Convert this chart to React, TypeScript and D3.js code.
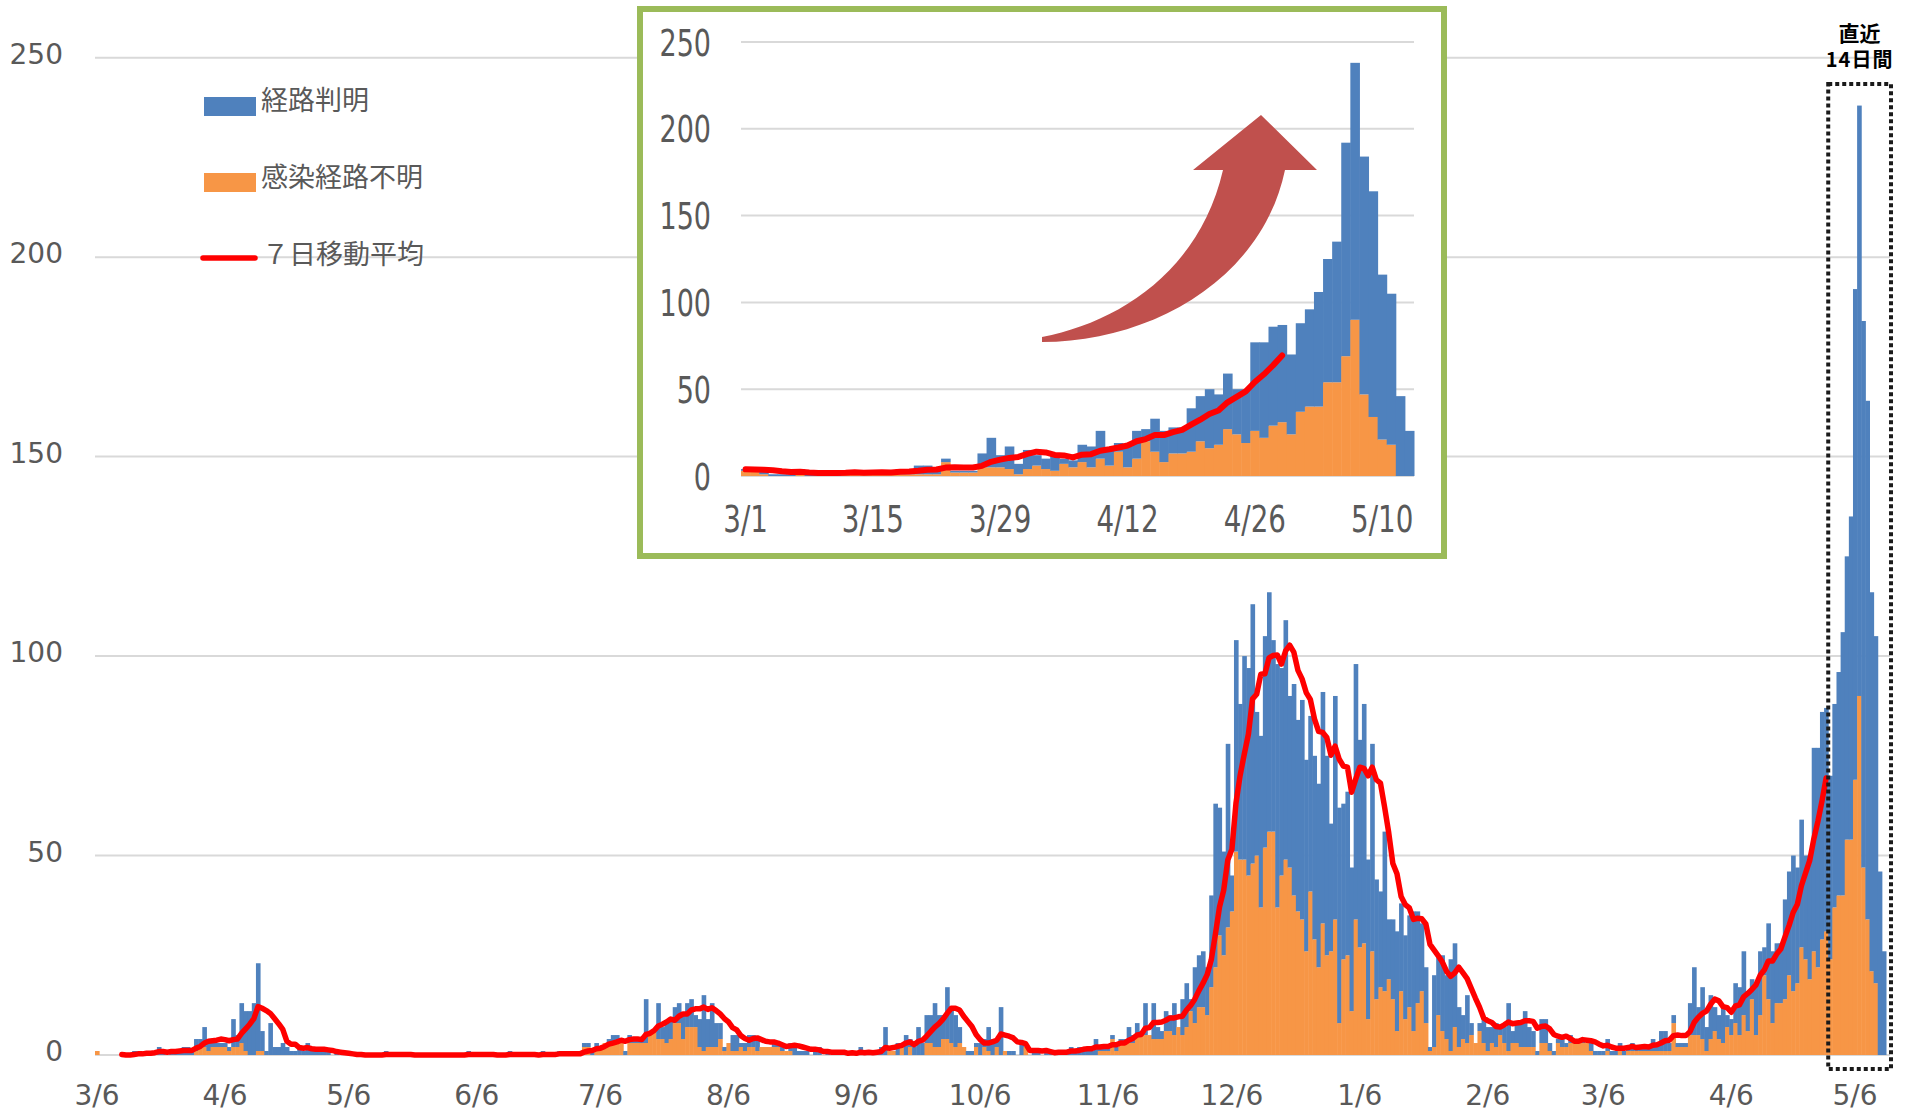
import * as d3 from 'd3';

// daily series, first day 2020-03-06, last day 2021-05-13
const START = '2020-03-06';
const MA_END = '2021-04-29';
const INSET_START = '2021-03-01';

const known = [
  0, 0, 0, 0, 0, 0, 0, 0, 0, 1,
  1, 0, 1, 0, 1, 2, 1, 0, 1, 1,
  1, 2, 2, 1, 3, 2, 5, 3, 1, 1,
  1, 1, 1, 7, 3, 10, 10, 11, 13, 22,
  5, 1, 8, 2, 2, 3, 2, 1, 1, 2,
  1, 3, 1, 1, 1, 1, 1, 0, 1, 0,
  0, 0, 0, 0, 0, 0, 0, 0, 0, 0,
  1, 0, 0, 0, 0, 0, 0, 0, 0, 0,
  0, 0, 0, 0, 0, 0, 0, 0, 0, 0,
  1, 0, 0, 0, 0, 0, 0, 0, 0, 0,
  1, 0, 0, 0, 0, 0, 0, 0, 1, 0,
  0, 0, 1, 0, 0, 1, 0, 0, 1, 1,
  1, 2, 0, 0, 1, 2, 2, 1, 1, 2,
  1, 1, 1, 11, 0, 0, 9, 3, 5, 5,
  4, 5, 6, 6, 7, 3, 7, 14, 7, 11,
  6, 4, 1, 0, 4, 4, 1, 2, 3, 3,
  3, 0, 0, 0, 1, 1, 1, 0, 2, 3,
  1, 1, 1, 0, 1, 2, 0, 1, 0, 1,
  0, 1, 0, 1, 0, 2, 0, 1, 0, 1,
  2, 7, 0, 0, 3, 0, 5, 2, 2, 7,
  3, 7, 7, 11, 8, 6, 13, 9, 8, 4,
  0, 1, 1, 1, 3, 2, 6, 4, 2, 12,
  0, 1, 1, 0, 3, 0, 0, 1, 1, 0,
  1, 1, 0, 1, 1, 1, 2, 1, 2, 2,
  2, 1, 4, 1, 1, 1, 1, 1, 1, 1,
  4, 2, 3, 1, 8, 0, 9, 3, 2, 5,
  4, 8, 0, 9, 11, 3, 14, 13, 14, 12,
  23, 41, 32, 26, 46, 9, 53, 39, 51, 52,
  65, 36, 43, 53, 60, 48, 61, 52, 60, 43,
  53, 48, 55, 48, 44, 46, 46, 58, 50, 32,
  56, 54, 39, 41, 36, 64, 52, 60, 40, 52,
  30, 24, 40, 15, 20, 25, 22, 21, 23, 30,
  23, 17, 14, 1, 18, 15, 19, 16, 23, 21,
  10, 6, 12, 3, 0, 2, 6, 6, 4, 6,
  2, 4, 12, 3, 5, 6, 9, 5, 4, 1,
  6, 6, 2, 1, 1, 2, 1, 2, 1, 0,
  1, 0, 2, 1, 1, 1, 3, 1, 1, 2,
  1, 1, 2, 1, 1, 1, 1, 3, 2, 5,
  5, 2, 2, 1, 1, 1, 8, 17, 7, 13,
  6, 11, 6, 6, 9, 3, 4, 10, 12, 16,
  10, 5, 13, 16, 7, 19, 18, 15, 15, 25,
  26, 34, 29, 32, 26, 31, 51, 55, 57, 56,
  46, 51, 56, 66, 71, 81, 123, 148, 137, 130,
  95, 87, 46, 26,
];

const unknown = [
  1, 0, 0, 0, 0, 0, 0, 0, 0, 0,
  0, 0, 0, 0, 0, 0, 0, 0, 0, 0,
  0, 0, 0, 0, 1, 2, 2, 1, 2, 2,
  2, 2, 1, 2, 2, 3, 1, 0, 0, 1,
  1, 0, 0, 0, 0, 0, 0, 0, 0, 0,
  0, 0, 0, 0, 0, 0, 0, 0, 0, 0,
  0, 0, 0, 0, 0, 0, 0, 0, 0, 0,
  0, 0, 0, 0, 0, 0, 0, 0, 0, 0,
  0, 0, 0, 0, 0, 0, 0, 0, 0, 0,
  0, 0, 0, 0, 0, 0, 0, 0, 0, 0,
  0, 0, 0, 0, 0, 0, 0, 0, 0, 0,
  0, 0, 0, 0, 0, 0, 0, 0, 2, 2,
  0, 1, 2, 3, 3, 3, 3, 3, 0, 3,
  3, 3, 3, 3, 6, 6, 4, 4, 3, 4,
  8, 8, 4, 7, 7, 7, 2, 1, 2, 2,
  2, 4, 1, 3, 1, 1, 2, 1, 2, 2,
  1, 2, 2, 2, 2, 2, 1, 1, 1, 0,
  0, 0, 0, 0, 0, 0, 0, 0, 0, 0,
  0, 0, 0, 0, 0, 0, 0, 0, 0, 0,
  0, 0, 1, 1, 0, 2, 0, 2, 0, 0,
  0, 3, 3, 2, 2, 4, 4, 3, 2, 3,
  2, 0, 0, 2, 0, 2, 1, 0, 2, 0,
  1, 0, 0, 0, 0, 2, 0, 0, 0, 0,
  0, 0, 0, 0, 0, 0, 0, 0, 0, 0,
  0, 0, 0, 1, 1, 1, 4, 1, 3, 3,
  3, 3, 5, 5, 5, 5, 4, 4, 4, 6,
  6, 5, 7, 5, 7, 11, 8, 12, 12, 10,
  17, 22, 30, 25, 32, 36, 51, 49, 49, 45,
  48, 50, 37, 52, 56, 56, 37, 45, 49, 47,
  40, 36, 34, 26, 41, 29, 22, 33, 25, 26,
  34, 8, 24, 25, 11, 34, 27, 28, 9, 26,
  14, 17, 16, 19, 14, 6, 16, 9, 12, 6,
  13, 16, 8, 1, 2, 10, 6, 4, 1, 7,
  2, 4, 3, 5, 3, 6, 3, 1, 3, 2,
  5, 3, 1, 3, 3, 2, 2, 2, 2, 0,
  3, 3, 1, 0, 3, 2, 2, 3, 3, 3,
  3, 3, 1, 0, 0, 0, 1, 0, 0, 1,
  0, 1, 1, 1, 1, 1, 1, 1, 1, 1,
  1, 1, 8, 2, 2, 2, 5, 5, 5, 4,
  1, 4, 6, 4, 3, 7, 5, 8, 5, 10,
  6, 14, 5, 10, 20, 14, 8, 13, 13, 14,
  20, 16, 18, 27, 24, 19, 26, 22, 29, 31,
  24, 37, 40, 40, 54, 54, 69, 90, 47, 34,
  21, 18, 0, 0,
];

const MAIN_TICKS = [
  '2020-03-06', '2020-04-06', '2020-05-06', '2020-06-06', '2020-07-06',
  '2020-08-06', '2020-09-06', '2020-10-06', '2020-11-06', '2020-12-06',
  '2021-01-06', '2021-02-06', '2021-03-06', '2021-04-06', '2021-05-06',
];
const INSET_TICKS = ['2021-03-01', '2021-03-15', '2021-03-29', '2021-04-12', '2021-04-26', '2021-05-10'];
const Y_TICKS = [0, 50, 100, 150, 200, 250];

const SERIES_NAMES = ['経路判明', '感染経路不明', '７日移動平均'];

const BLUE = '#4f81bd';
const ORANGE = '#f79646';
const RED = '#ff0000';
const GRID = '#d9d9d9';
const LABEL = '#595959';
const NUM_FONT = '"DejaVu Sans", Verdana, sans-serif';
const JP_FONT = '"Noto Sans CJK JP", "Noto Sans", sans-serif';

const parse = d3.timeParse('%Y-%m-%d');
const fmtKey = d3.timeFormat('%Y-%m-%d');
const fmtLabel = d3.timeFormat('%-m/%-d');

const start = parse(START) as Date;
const rows = known.map((k, i) => ({
  date: fmtKey(d3.timeDay.offset(start, i)),
  known: k,
  unknown: unknown[i],
  total: k + unknown[i],
}));
const dates = rows.map((r) => r.date);
const maEndIdx = dates.indexOf(MA_END);
const maRows = rows
  .map((r, i) => ({
    date: r.date,
    ma: i >= 6 ? d3.mean(rows.slice(i - 6, i + 1), (d) => d.total) as number : null,
  }))
  .filter((d, i) => d.ma !== null && i <= maEndIdx);

const insetIdx = dates.indexOf(INSET_START);
const insetRows = rows.slice(insetIdx);
const insetMa = maRows.filter((d) => d.date >= INSET_START);

function Bars({ data, x, y }) {
  const bw = x.bandwidth();
  return (
    <g>
      {data.map((d) => {
        const x0 = x(d.date);
        return (
          <g key={d.date}>
            {d.unknown > 0 && (
              <rect x={x0} width={bw + 0.5} y={y(d.unknown)} height={y(0) - y(d.unknown)} fill={ORANGE} />
            )}
            {d.known > 0 && (
              <rect x={x0} width={bw + 0.5} y={y(d.total)} height={y(d.unknown) - y(d.total)} fill={BLUE} />
            )}
          </g>
        );
      })}
    </g>
  );
}

export default function App() {
  const x = d3.scaleBand().domain(dates).range([95, 1886]).padding(0);
  const y = d3.scaleLinear().domain([0, 250]).range([1055, 57.7]);
  const bw = x.bandwidth();

  const line = d3.line()
    .x((d) => x(d.date) + bw / 2)
    .y((d) => y(d.ma));

  const xi = d3.scaleBand().domain(insetRows.map((d) => d.date)).range([741, 1414]).padding(0);
  const yi = d3.scaleLinear().domain([0, 250]).range([476, 42]);
  const bwi = xi.bandwidth();
  const lineI = d3.line()
    .x((d) => xi(d.date) + bwi / 2)
    .y((d) => yi(d.ma));

  const boxLeft = x(dates[maEndIdx + 1]);
  const boxRight = x(dates[dates.length - 1]) + bw + 5;

  return (
    <svg width={1914} height={1111} style={{ position: 'absolute', left: 0, top: 0, display: 'block', background: '#fff' }}>
      {/* main grid */}
      {Y_TICKS.map((t) => (
        <g key={t}>
          <line x1={95} x2={1890} y1={y(t)} y2={y(t)} stroke={GRID} strokeWidth={2} />
          <text x={63} y={y(t) + 6} textAnchor="end" fontFamily={NUM_FONT} fontSize={28} fill={LABEL}>{t}</text>
        </g>
      ))}
      {MAIN_TICKS.map((t, i) => (
        <text key={i} x={x(t) + bw / 2} y={1105} textAnchor="middle" fontFamily={NUM_FONT} fontSize={28} fill={LABEL}>
          {fmtLabel(parse(t) as Date)}
        </text>
      ))}

      <Bars data={rows} x={x} y={y} />
      <path d={line(maRows)} fill="none" stroke={RED} strokeWidth={5.5} strokeLinejoin="round" strokeLinecap="round" />

      {/* last 14 days box */}
      <rect x={boxLeft} y={84} width={boxRight - boxLeft} height={985} fill="none" stroke="#1a1a1a" strokeWidth={4} strokeDasharray="4 3" />
      <text x={(boxLeft + boxRight) / 2} y={41} textAnchor="middle" fontFamily={JP_FONT} fontWeight="bold" fontSize={21} fill="#000">直近</text>
      <text x={(boxLeft + boxRight) / 2} y={67} textAnchor="middle" fontFamily={JP_FONT} fontWeight="bold" fontSize={20} fill="#000" letterSpacing={1}>14日間</text>

      {/* legend */}
      <rect x={204} y={97} width={52} height={19} fill={BLUE} />
      <text x={261} y={110} fontFamily={JP_FONT} fontSize={27} fill={LABEL}>{SERIES_NAMES[0]}</text>
      <rect x={204} y={173} width={52} height={19} fill={ORANGE} />
      <text x={261} y={187} fontFamily={JP_FONT} fontSize={27} fill={LABEL}>{SERIES_NAMES[1]}</text>
      <line x1={203} x2={255} y1={258} y2={258} stroke={RED} strokeWidth={5.5} strokeLinecap="round" />
      <text x={262} y={264} fontFamily={JP_FONT} fontSize={27} fill={LABEL}>{SERIES_NAMES[2]}</text>

      {/* inset */}
      <rect x={640} y={9} width={804} height={547} fill="#fff" stroke="#9bbb59" strokeWidth={6} />
      {Y_TICKS.map((t) => (
        <g key={t}>
          <line x1={741} x2={1414} y1={yi(t)} y2={yi(t)} stroke={GRID} strokeWidth={2} />
          <text transform={`translate(711,${yi(t) + 13.5}) scale(0.73,1)`} textAnchor="end" fontFamily={NUM_FONT} fontSize={37} fill={LABEL}>{t}</text>
        </g>
      ))}
      {INSET_TICKS.map((t) => (
        <text key={t} transform={`translate(${xi(t) + bwi / 2},532) scale(0.75,1)`} textAnchor="middle" fontFamily={NUM_FONT} fontSize={37} fill={LABEL}>
          {fmtLabel(parse(t) as Date)}
        </text>
      ))}
      <path
        d="M1042,337 C1120,322 1200,270 1223,170 L1193,170 L1261,115 L1317,170 L1285,170 C1262,280 1150,342 1042,342 Z"
        fill="#c0504d"
      />
      <Bars data={insetRows} x={xi} y={yi} />
      <path d={lineI(insetMa)} fill="none" stroke={RED} strokeWidth={6} strokeLinejoin="round" strokeLinecap="round" />
    </svg>
  );
}
